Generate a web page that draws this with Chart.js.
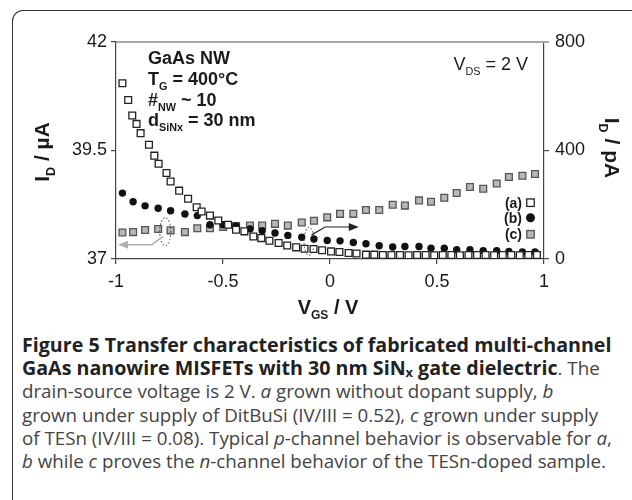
<!DOCTYPE html>
<html>
<head>
<meta charset="utf-8">
<script src="https://cdn.jsdelivr.net/npm/chart.js@4.4.1/dist/chart.umd.min.js"></script>
<style>
  body { margin: 0; background: #fff; width: 632px; height: 500px; overflow: hidden; position: relative; }
  #frame { position: absolute; left: 12px; top: 10px; width: 700px; height: 600px;
           border-left: 1.5px solid #333; border-top: 1.5px solid #333; border-top-left-radius: 11px; }
  #wrap { position: absolute; left: 0; top: 0; width: 632px; height: 330px; }
  #caption { position: absolute; left: 22px; top: 333px; width: 620px; font-family: "Open Sans", sans-serif;
             font-size: 17px; line-height: 23.2px; color: #444; }
  #caption div { white-space: nowrap; }
  #caption span { display: inline-block; }
  #caption b { color: #222; }
  #caption sub { font-size: 0.65em; vertical-align: -2px; line-height: 0; }
</style>
</head>
<body>
<div id="frame"></div>
<div id="wrap"><canvas id="chart" width="632" height="330"></canvas></div>
<div id="caption">
  <div><span id="l1"><b>Figure 5 Transfer characteristics of fabricated multi-channel</b></span></div>
  <div><span id="l2"><b>GaAs nanowire MISFETs with 30 nm SiN<sub>x</sub> gate dielectric</b>. The</span></div>
  <div><span id="l3">drain-source voltage is 2 V. <i>a</i> grown without dopant supply, <i>b</i></span></div>
  <div><span id="l4">grown under supply of DitBuSi (IV/III = 0.52), <i>c</i> grown under supply</span></div>
  <div><span id="l5">of TESn (IV/III = 0.08). Typical <i>p</i>-channel behavior is observable for <i>a</i>,</span></div>
  <div><span id="l6"><i>b</i> while <i>c</i> proves the <i>n</i>-channel behavior of the TESn-doped sample.</span></div>
</div>
<script>
// sample (a): undoped, right axis (pA)
const vgsA = [-0.970, -0.943, -0.924, -0.904, -0.885, -0.846, -0.821, -0.801, -0.764, -0.745,
              -0.705, -0.663, -0.623, -0.600, -0.561, -0.522, -0.476, -0.439, -0.400, -0.358,
              -0.321, -0.283, -0.240, -0.200, -0.158, -0.119, -0.077, -0.037, 0.005, 0.044,
              0.087, 0.124, 0.168, 0.207, 0.247, 0.287, 0.327, 0.367, 0.407, 0.447,
              0.487, 0.527, 0.567, 0.607, 0.647, 0.687, 0.727, 0.767, 0.807, 0.847,
              0.887, 0.927, 0.967];
const idA = [648, 586, 529, 498, 464, 421, 381, 351, 317, 286,
             252, 222, 191, 175, 160, 142, 126, 108, 102, 83,
             77, 67, 59, 50, 43, 38, 37, 32, 28, 26,
             22, 20, 16, 16, 15, 15, 15, 14, 15, 15,
             14, 15, 15, 14, 15, 15, 15, 14, 15, 15,
             14, 15, 15];

// samples (b) DitBuSi (pA, right axis) and (c) TESn (µA, left axis)
const vgsBC = [-0.970, -0.920, -0.864, -0.803, -0.745, -0.678, -0.620, -0.561, -0.499, -0.439,
               -0.374, -0.317, -0.257, -0.197, -0.132, -0.075, -0.013, 0.047, 0.109, 0.168,
               0.230, 0.293, 0.350, 0.416, 0.472, 0.534, 0.592, 0.654, 0.716, 0.779,
               0.836, 0.899, 0.958];
const idB = [243, 211, 196, 187, 178, 166, 160, 126, 126, 122,
             111, 104, 96, 87, 80, 74, 68, 67, 61, 56,
             49, 44, 46, 46, 40, 40, 34, 34, 31, 31,
             28, 26, 26];
const idC = [37.61, 37.62, 37.67, 37.69, 37.66, 37.62, 37.71, 37.71, 37.74, 37.76,
             37.77, 37.77, 37.81, 37.77, 37.84, 37.88, 37.96, 38.04, 38.04, 38.13,
             38.13, 38.25, 38.23, 38.35, 38.32, 38.41, 38.52, 38.66, 38.62, 38.74,
             38.89, 38.92, 38.96];

const xTicks = [-1, -0.5, 0, 0.5, 1];
const leftTicks = [37, 39.5, 42];
const rightTicks = [0, 400, 800];

const FONT = '"Liberation Sans", Arial, sans-serif';
const INK = "#1a1a1a";

// caption: fit the regular text so the full lines span 590px, and the bold line too
function fitCaption() {
    const cap = document.getElementById("caption");
    const w = id => document.getElementById(id).getBoundingClientRect().width;
    const base = 17;
    const s = Math.min(base * 590 / w("l4"), base * 590 / w("l5"), base * 590 / w("l6"));
    cap.style.fontSize = s.toFixed(2) + "px";
    const bold = document.querySelector("#l1 b");
    const bs = s * 590 / w("l1");
    document.querySelectorAll("#caption b").forEach(b => { b.style.fontSize = (bs / s).toFixed(3) + "em"; });
}
fitCaption();

function pts(xs, ys) {
    return xs.map((x, i) => ({ x: x, y: ys[i] }));
}

// text with subscripts, parts = [[text, isSub], ...], y = baseline
function rich(ctx, parts, x, y, size, bold, align) {
    const f = s => (bold ? "bold " : "") + s + "px " + FONT;
    const subSize = size * 0.6;
    let total = 0;
    parts.forEach(p => {
        ctx.font = f(p[1] ? subSize : size);
        total += ctx.measureText(p[0]).width;
    });
    let cx = align === "center" ? x - total / 2 : align === "right" ? x - total : x;
    ctx.textAlign = "left";
    ctx.textBaseline = "alphabetic";
    parts.forEach(p => {
        ctx.font = f(p[1] ? subSize : size);
        ctx.fillText(p[0], cx, y + (p[1] ? size * 0.27 : 0));
        cx += ctx.measureText(p[0]).width;
    });
}

function marker(ctx, kind, x, y, s) {
    ctx.save();
    ctx.lineWidth = 1.3;
    if (kind === "b") {
        ctx.fillStyle = "#111";
        ctx.beginPath();
        ctx.arc(x, y, s / 2, 0, Math.PI * 2);
        ctx.fill();
    } else {
        ctx.fillStyle = kind === "a" ? "#fff" : "#b8b8b8";
        ctx.strokeStyle = kind === "a" ? "#222" : "#555";
        ctx.fillRect(x - s / 2, y - s / 2, s, s);
        ctx.strokeRect(x - s / 2, y - s / 2, s, s);
    }
    ctx.restore();
}

function arrow(ctx, path, color, width) {
    ctx.save();
    ctx.strokeStyle = color;
    ctx.fillStyle = color;
    ctx.lineWidth = width;
    ctx.beginPath();
    path.forEach((p, i) => i ? ctx.lineTo(p[0], p[1]) : ctx.moveTo(p[0], p[1]));
    ctx.stroke();
    const a = path[path.length - 2], b = path[path.length - 1];
    const ang = Math.atan2(b[1] - a[1], b[0] - a[0]);
    ctx.translate(b[0], b[1]);
    ctx.rotate(ang);
    ctx.beginPath();
    ctx.moveTo(2, 0);
    ctx.lineTo(-8, -4);
    ctx.lineTo(-8, 4);
    ctx.closePath();
    ctx.fill();
    ctx.restore();
}

const decor = {
    id: "decor",
    afterDatasetsDraw(chart) {
        const ctx = chart.ctx;
        const a = chart.chartArea;
        const sx = chart.scales.x, sl = chart.scales.yL, sr = chart.scales.yR;

        // grey top frame line
        ctx.save();
        ctx.strokeStyle = "#a8a8a8";
        ctx.lineWidth = 2;
        ctx.beginPath();
        ctx.moveTo(a.left, a.top);
        ctx.lineTo(a.right + 5, a.top);
        ctx.stroke();
        ctx.restore();

        ctx.fillStyle = INK;
        // axis titles
        ctx.save();
        ctx.translate(49, 152);
        ctx.rotate(-Math.PI / 2);
        rich(ctx, [["I", 0], ["D", 1], [" / µA", 0]], 0, 0, 21, true, "center");
        ctx.restore();

        ctx.save();
        ctx.translate(605, 148);
        ctx.rotate(Math.PI / 2);
        rich(ctx, [["I", 0], ["D", 1], [" / pA", 0]], 0, 0, 21, true, "center");
        ctx.restore();

        rich(ctx, [["V", 0], ["GS", 1], [" / V", 0]], 328, 314, 20, true, "center");

        // sample info
        rich(ctx, [["GaAs NW", 0]], 148, 64, 18, true, "left");
        rich(ctx, [["T", 0], ["G", 1], [" = 400°C", 0]], 148, 85, 18, true, "left");
        rich(ctx, [["#", 0], ["NW", 1], [" ~ 10", 0]], 148, 106, 18, true, "left");
        rich(ctx, [["d", 0], ["SiNx", 1], [" = 30 nm", 0]], 148, 126, 18, true, "left");
        rich(ctx, [["V", 0], ["DS", 1], [" = 2 V", 0]], 528, 70, 18, false, "right");

        // legend
        const leg = [["(a)", "a", 202.7], ["(b)", "b", 217.8], ["(c)", "c", 234.3]];
        leg.forEach(l => {
            ctx.fillStyle = INK;
            rich(ctx, [[l[0], 0]], 522, l[2] + 5, 14, true, "right");
            marker(ctx, l[1], 530.5, l[2], l[1] === "b" ? 9 : 7.5);
        });

        // dotted ellipses marking which axis a curve belongs to
        ctx.save();
        ctx.strokeStyle = "#333";
        ctx.lineWidth = 1;
        ctx.setLineDash([1.5, 2]);
        ctx.beginPath();
        ctx.ellipse(sx.getPixelForValue(-0.77), sl.getPixelForValue(37.63), 5.5, 14, 0, 0, Math.PI * 2);
        ctx.stroke();
        ctx.beginPath();
        ctx.ellipse(sx.getPixelForValue(-0.098), sr.getPixelForValue(65), 5, 14, 0, 0, Math.PI * 2);
        ctx.stroke();
        ctx.restore();

        arrow(ctx, [[sx.getPixelForValue(-0.779), sl.getPixelForValue(37.52)],
                    [sx.getPixelForValue(-0.833), sl.getPixelForValue(37.33)],
                    [sx.getPixelForValue(-0.981), sl.getPixelForValue(37.33)]], "#b0b0b0", 1.5);
        arrow(ctx, [[sx.getPixelForValue(-0.086), sr.getPixelForValue(89)],
                    [sx.getPixelForValue(-0.023), sr.getPixelForValue(118)],
                    [sx.getPixelForValue(0.125), sr.getPixelForValue(118)]], "#222", 1.2);
    }
};

function fixedTicks(list) {
    return function (scale) {
        scale.ticks = list.map(v => ({ value: v }));
    };
}

const axisCommon = {
    grid: { drawOnChartArea: false, tickLength: 5, color: "#444", lineWidth: 1.2 },
    border: { color: "#444", width: 1.2 },
    title: { display: false }
};

new Chart(document.getElementById("chart"), {
    type: "scatter",
    data: {
        datasets: [
            {
                label: "(a)",
                data: pts(vgsA, idA),
                yAxisID: "yR",
                pointStyle: "rect",
                pointRadius: 4.8,
                backgroundColor: "#fff",
                borderColor: "#222",
                borderWidth: 1.3
            },
            {
                label: "(b)",
                data: pts(vgsBC, idB),
                yAxisID: "yR",
                pointStyle: "circle",
                pointRadius: 3.7,
                backgroundColor: "#111",
                borderColor: "#111",
                borderWidth: 0
            },
            {
                label: "(c)",
                data: pts(vgsBC, idC),
                yAxisID: "yL",
                pointStyle: "rect",
                pointRadius: 4.8,
                backgroundColor: "#b8b8b8",
                borderColor: "#555",
                borderWidth: 1.3
            }
        ]
    },
    options: {
        responsive: false,
        animation: false,
        devicePixelRatio: 1,
        layout: { padding: { top: 42, left: 0, right: 0, bottom: 0 } },
        plugins: { legend: { display: false }, tooltip: { enabled: false } },
        scales: {
            x: Object.assign({}, axisCommon, {
                type: "linear",
                min: -1,
                max: 1,
                afterBuildTicks: fixedTicks(xTicks),
                afterFit: s => { s.height = 71; },
                ticks: { color: INK, padding: 7, font: { size: 18, family: FONT }, callback: v => String(v) }
            }),
            yL: Object.assign({}, axisCommon, {
                position: "left",
                min: 37,
                max: 42,
                afterBuildTicks: fixedTicks(leftTicks),
                afterFit: s => { s.width = 116; },
                ticks: { color: INK, padding: 4, font: { size: 18, family: FONT }, callback: v => String(v) }
            }),
            yR: Object.assign({}, axisCommon, {
                position: "right",
                min: 0,
                max: 800,
                afterBuildTicks: fixedTicks(rightTicks),
                afterFit: s => { s.width = 88; },
                ticks: { color: INK, padding: 6, font: { size: 18, family: FONT }, callback: v => String(v) }
            })
        }
    },
    plugins: [decor]
});
</script>
</body>
</html>
